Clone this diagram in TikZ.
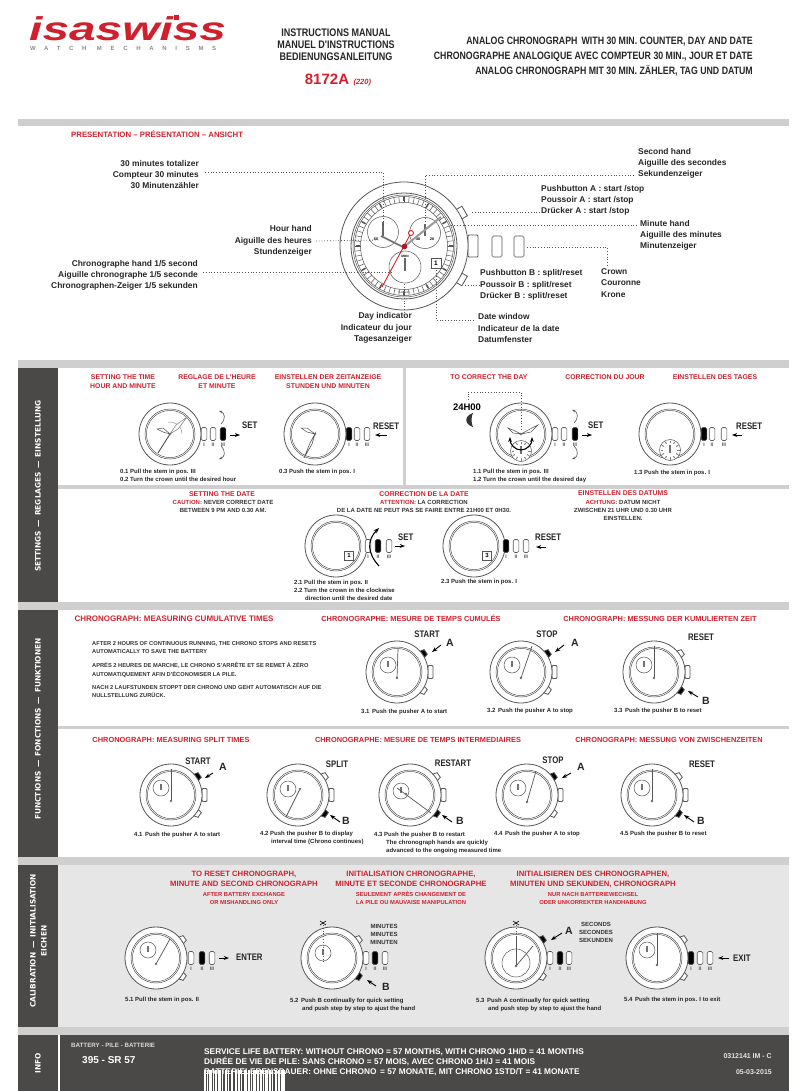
\documentclass[tikz,border=0pt]{standalone}
\usepackage{fontspec}
\setmainfont{Liberation Sans}
\newfontfamily\narrowfont[FakeStretch=0.82]{Liberation Sans}
\newfontfamily\logofont[FakeStretch=1.45]{Liberation Sans}
\newfontfamily\tagfont[LetterSpace=145]{Liberation Sans}
\newfontfamily\wideface{DejaVu Sans}
\usetikzlibrary{arrows.meta, positioning, calc}

\definecolor{isared}{HTML}{D0202E}
\definecolor{slab}{HTML}{4A4947}
\definecolor{barg}{HTML}{CFCFCF}
\definecolor{calg}{HTML}{E6E6E6}
\definecolor{steel}{HTML}{555555}

% case of a small watch
\newcommand{\dial}[2]{
    \draw[case, fill=white] (#1,#2) circle[radius=31];
    \draw[case, line width=0.5pt] (#1,#2) circle[radius=25];
    \draw[case, line width=0.5pt] (#1,#2) circle[radius=23.6];
}
% one pusher, given the angle and the fill
\newcommand{\pusher}[4]{
    \draw[case, fill=#4, shift={(#1,#2)}, rotate=#3] (30.5,-4) -- (35,-2.8) -- (35,2.8) -- (30.5,4) -- cycle;
}
% pushers and crown on the right of a small watch
\newcommand{\pushers}[4]{
    \pusher{#1}{#2}{35}{#3}
    \draw[case, fill=white, rounded corners=1pt, shift={(#1,#2)}] (31,-6.5) rectangle (36,6.5);
    \pusher{#1}{#2}{-35}{#4}
}
% three stem positions with their marks
\newcommand{\stems}[7]{
    \foreach \sx/\sc/\st in {#2/#5/I, #3/#6/II, #4/#7/III} {
        \draw[stem, fill=\sc] (\sx-2.8,#1-6.5) rectangle (\sx+2.8,#1+6.5);
        \node (pos\st) [posmark] at (\sx,#1+10.5) {\st};
    }
}
% small counter with its hand
\newcommand{\counter}[3]{
    \draw[case, line width=0.5pt, fill=white] (#1,#2) circle[radius=#3];
    \draw[case, draw=black!55, line width=1.2pt] (#1,#2+#3*0.3) -- (#1,#2-#3*0.5);
}
% ticks inside a day counter
\newcommand{\dayticks}[2]{
    \foreach \a in {0,30,...,330} {
        \draw[case, line width=0.9pt, draw=black!50, shift={(#1,#2)}, rotate=\a] (7,0) -- (9.5,0);
    }
}
\newcommand{\pivot}[2]{\draw[case, fill=white, line width=0.5pt] (#1,#2) circle[radius=1.1];}

\begin{document}
\begin{tikzpicture}[
        x=1pt, y=-1pt,
        case/.style={draw=steel, line width=0.8pt},
        stem/.style={draw=steel, line width=0.6pt, rounded corners=1.5pt},
        chand/.style={draw=steel, line width=0.7pt},
        leader/.style={draw=steel, line width=0.8pt, dotted},
        arrow/.style={-{Stealth[scale=0.75]}, draw=black, line width=0.9pt},
        rotarrow/.style={-{Stealth[scale=0.6]}, draw=steel, line width=0.6pt},
        posmark/.style={inner sep=0pt, font=\bfseries\fontsize{5}{6}\selectfont, text=steel},
        dialmark/.style={inner sep=0pt, font=\bfseries\fontsize{3.8}{4}\selectfont, text=black},
        partlabel/.style={inner sep=0pt, font=\bfseries\fontsize{8.4}{11.3}\selectfont, text=black!85},
        title/.style={inner sep=0pt, align=center, font=\narrowfont\bfseries\fontsize{11}{12.2}\selectfont, text=black!85},
        subtitle/.style={inner sep=0pt, align=right, anchor=east, font=\narrowfont\bfseries\fontsize{10.7}{15}\selectfont, text=black!85},
        head/.style={inner sep=0pt, align=center, font=\bfseries\fontsize{6.9}{9}\selectfont, text=isared},
        chronohead/.style={inner sep=0pt, align=center, font=\bfseries\fontsize{7.4}{9}\selectfont, text=isared},
        calhead/.style={inner sep=0pt, align=center, font=\bfseries\fontsize{7.7}{10}\selectfont, text=isared},
        calnote/.style={inner sep=0pt, align=center, font=\bfseries\fontsize{5.8}{8}\selectfont, text=isared},
        note/.style={inner sep=0pt, align=center, font=\bfseries\fontsize{6}{8}\selectfont, text=black!80},
        capt/.style={inner sep=0pt, align=left, anchor=west, font=\bfseries\fontsize{6}{8}\selectfont, text=black!85},
        action/.style={inner sep=0pt, font=\narrowfont\bfseries\fontsize{9.5}{10}\selectfont, text=black!85},
        letter/.style={inner sep=0pt, font=\bfseries\fontsize{10.5}{12}\selectfont, text=black!85},
        side/.style={inner sep=0pt, rotate=90, align=center, text=white, font=\wideface\bfseries\fontsize{7.4}{11}\selectfont},
        infotext/.style={inner sep=0pt, anchor=west, text=white, font=\bfseries}
    ]
    \useasboundingbox (0,0) rectangle (808,1091);

    % bands and panels
    \fill[barg] (18,119) rectangle (789,126);
    \fill[barg] (18,360) rectangle (789,368);
    \fill[barg] (18,602) rectangle (789,610);
    \fill[barg] (18,857) rectangle (789,865);
    \fill[barg] (18,1027) rectangle (789,1035);
    \fill[calg] (58,865) rectangle (789,1027);
    \fill[slab] (18,368) rectangle (58,602);
    \fill[slab] (18,610) rectangle (58,857);
    \fill[slab] (18,865) rectangle (58,1027);
    \fill[slab] (18,1035) rectangle (58,1091);
    \fill[slab] (60,1035) rectangle (789,1091);
    \fill[barg] (58,485) rectangle (789,488.5);
    \fill[barg] (403,368) rectangle (405.5,485);
    \fill[barg] (58,726) rectangle (789,729);

    \node (settingsside) [side] at (38,486) {SETTINGS \,—\, REGLAGES \,—\, EINSTELLUNG};
    \node (functionsside) [side] at (38,729) {FUNCTIONS \,—\, FONCTIONS \,—\, FUNKTIONEN};
    \node (calibside) [side] at (38.5,941) {CALIBRATION \,—\, INITIALISATION\\EICHEN};
    \node (infoside) [side] at (38,1063) {INFO};

    % header
    \node (logo) [inner sep=0pt, anchor=base west, text=isared, font=\logofont\bfseries\itshape\fontsize{33}{33}\selectfont] at (29,40.5) {isaswiss};
    \fill[isared] (174,15) rectangle (179,20);
    \node (logotag) [inner sep=0pt, anchor=west, text=black!45, font=\tagfont\bfseries\fontsize{6}{6}\selectfont] at (30,48) {WATCH MECHANISMS};
    \node (manual) [title] at (336,45) {INSTRUCTIONS MANUAL\\MANUEL D'INSTRUCTIONS\\BEDIENUNGSANLEITUNG};
    \node (model) [inner sep=0pt, text=isared, font=\bfseries\fontsize{15}{16}\selectfont] at (327,79) {8172A};
    \node (modelsub) [inner sep=0pt, right=4pt of model.base east, anchor=base west, text=isared, font=\bfseries\itshape\fontsize{7.5}{8}\selectfont] {(220)};
    \node (product) [subtitle] at (753,57) {ANALOG CHRONOGRAPH\, WITH 30 MIN. COUNTER, DAY AND DATE\\CHRONOGRAPHE ANALOGIQUE AVEC COMPTEUR 30 MIN., JOUR ET DATE\\ANALOG CHRONOGRAPH MIT 30 MIN. ZÄHLER, TAG UND DATUM};

    % presentation
    \node (prestitle) [inner sep=0pt, anchor=west, text=isared, font=\bfseries\fontsize{7.8}{9}\selectfont] at (71,134.5) {PRESENTATION – PRÉSENTATION – ANSICHT};

    \draw[case, shift={(404,246)}, rotate=30, fill=white] (63,-5.5) rectangle (70,5.5);
    \draw[case, shift={(404,246)}, rotate=-30, fill=white] (63,-5.5) rectangle (70,5.5);
    \draw[case, fill=white, rounded corners=1pt] (465,239) rectangle (470,253);
    \draw[case, fill=white, rounded corners=1pt] (468,235) rectangle (478,257);
    \draw[case, fill=white] (404,246) circle[radius=64];
    \draw[case] (404,246) circle[radius=53];
    \draw[case, line width=0.5pt] (404,246) circle[radius=51];
    \draw[case, line width=0.5pt] (404,246) circle[radius=49.5];
    \draw[case, line width=0.5pt] (404,246) circle[radius=43.5];
    \foreach \a in {0,6,...,354} {
        \draw[case, line width=0.5pt, shift={(404,246)}, rotate=\a] (43.5,0) -- (49.5,0);
    }
    \foreach \a in {0,30,...,330} {
        \draw[case, line width=1.5pt, shift={(404,246)}, rotate=\a] (44.5,0) -- (48.5,0);
    }
    \draw[case, line width=0.5pt, fill=white] (383,232) circle[radius=15.5];
    \draw[case, line width=0.5pt, fill=white] (425,233) circle[radius=15.5];
    \draw[case, line width=0.5pt, fill=white] (405,267) circle[radius=16];
    \draw[case, line width=1.6pt, draw=black!60] (383,236) -- (383,222);
    \draw[case, line width=1.6pt, draw=black!60] (405,271) -- (405,258);
    \draw[case, line width=1.4pt, draw=black!60] (425,236) -- (425,224);
    \node (subsixty) [dialmark] at (376,239) {60};
    \node (subforty) [dialmark] at (418,239) {40};
    \node (subthirty) [dialmark] at (432,239) {20};
    \node (subday) [dialmark, font=\bfseries\fontsize{3.2}{4}\selectfont] at (405,256) {MON};
    \draw[case, line width=1pt, fill=white] (431,258) rectangle (441,268);
    \node (datenum) [inner sep=0pt, font=\bfseries\fontsize{6.5}{7}\selectfont] at (436,263) {1};
    \draw[case, line width=2pt, draw=black!40] (403,247) -- (381,236);
    \draw[case, line width=2pt, draw=black!40] (405,246) -- (441,217);
    \draw[case, line width=0.5pt] (403,247) -- (381,236);
    \draw[isared, line width=0.9pt] (382,287) -- (411,233);
    \draw[isared, line width=0.9pt, fill=white] (411,233) circle[radius=2.5];
    \fill[isared!80!black] (404.5,246.5) circle[radius=2.8];
    \node (watchmark) [inner sep=0pt, text=black!60, font=\bfseries\fontsize{2.5}{3}\selectfont] at (404,293) {ISASWISS};

    \node (totalizer) [partlabel, align=right, anchor=east] at (199,174.5) {30 minutes totalizer\\Compteur 30 minutes\\30 Minutenzähler};
    \node (secondlbl) [partlabel, align=left, anchor=west] at (638,163.5) {Second hand\\Aiguille des secondes\\Sekundenzeiger};
    \node (pusherA) [partlabel, align=left, anchor=west] at (541,200.5) {Pushbutton A : start /stop\\Poussoir A : start /stop\\Drücker A : start /stop};
    \node (minutelbl) [partlabel, align=left, anchor=west] at (640,235.5) {Minute hand\\Aiguille des minutes\\Minutenzeiger};
    \node (hourlbl) [partlabel, align=right, anchor=east] at (312,241) {Hour hand\\Aiguille des heures\\Stundenzeiger};
    \node (chronolbl) [partlabel, align=right, anchor=east] at (198,275.5) {Chronographe hand 1/5 second\\Aiguille chronographe 1/5 seconde\\Chronographen-Zeiger 1/5 sekunden};
    \node (crownlbl) [partlabel, align=left, anchor=west] at (601,283) {Crown\\Couronne\\Krone};
    \node (pusherB) [partlabel, align=left, anchor=west] at (480,285) {Pushbutton B : split/reset\\Poussoir B : split/reset\\Drücker B : split/reset};
    \node (daylbl) [partlabel, align=right, anchor=east] at (412,328) {Day indicator\\Indicateur du jour\\Tagesanzeiger};
    \node (datelbl) [partlabel, align=left, anchor=west] at (478,328) {Date window\\Indicateur de la date\\Datumfenster};

    % crown stem positions of the large watch
    \draw[stem, fill=white] (492,236) rectangle (502,257);
    \draw[stem, fill=white] (514,236) rectangle (524,257);

    \coordinate (totalend) at (383,225);
    \coordinate (secondend) at (425,222);
    \coordinate (minuteend) at (450,225);
    \coordinate (hourend) at (380,240);
    \coordinate (chronoend) at (393,272);
    \coordinate (dayend) at (404,284);
    \coordinate (dateend) at (436,270);
    \coordinate (crowndrop) at (607,266);
    \draw[leader] (205,172) -| (totalend);
    \draw[leader] (634,175) -| (secondend);
    \draw[leader] (472,212) -- (pusherA.west |- 0,212);
    \draw[leader] (637,225) -- (minuteend);
    \draw[leader] (hourlbl.east) ++(4,0) -- (hourend);
    \draw[leader] (203,272) -- (chronoend);
    \draw[leader] (465,285) -- (pusherB.west);
    \draw[leader] (daylbl.north -| dayend) -- (dayend);
    \draw[leader] (474,320) -| (dateend);
    \draw[leader] (527,247) -| (crowndrop);

    % settings: time
    \node (time1) [head] at (123,381.5) {SETTING THE TIME\\HOUR AND MINUTE};
    \node (time2) [head] at (217,381.5) {REGLAGE DE L'HEURE\\ET MINUTE};
    \node (time3) [head] at (328,381.5) {EINSTELLEN DER ZEITANZEIGE\\STUNDEN UND MINUTEN};

    \dial{170}{434}
    \draw[chand, draw=black!50, line width=0.4pt] (182,434) arc (0:-100:12);
    \draw[chand, draw=black!45, line width=0.6pt, fill=white] (170,434) -- (176,425) -- (187,417) -- (178,429) -- cycle;
    \draw[chand, line width=0.5pt, fill=white] (170,434) -- (163,428) -- (157,429) -- (163,432) -- cycle;
    \draw[chand, line width=0.9pt, draw=black!70] (170,434) -- (158,453);
    \pivot{170}{434}
    \stems{434}{204}{213}{223}{white}{white}{black}
    \draw[arrow] (230,435) -- (240,435);
    \node (set01) [action, anchor=west] at (242,425.5) {SET};
    \draw[rotarrow] (221,424) .. controls (226,419) and (225,413) .. (219,411);
    \draw[rotarrow] (221,446) .. controls (226,451) and (225,457) .. (219,459);
    \node (cap01) [capt] at (120,475) {0.1 Pull the stem in pos. III\\0.2 Turn the crown until the desired hour};

    \dial{315}{434}
    \draw[chand, line width=0.5pt, fill=white] (315,434) -- (307,428) -- (301,428) -- (307,432) -- cycle;
    \draw[chand, line width=0.6pt, fill=white] (315,434) -- (312,444) -- (304,458) -- (310,443) -- cycle;
    \pivot{315}{434}
    \stems{434}{349}{357}{367}{black}{white}{white}
    \draw[arrow] (387,435) -- (375,435);
    \node (reset03) [action, anchor=west] at (373,426) {RESET};
    \node (cap03) [capt] at (279,472) {0.3 Push the stem in pos. I};

    % settings: day
    \node (day1) [head] at (489,377) {TO CORRECT THE DAY};
    \node (day2) [head] at (605,377) {CORRECTION DU JOUR};
    \node (day3) [head] at (715,377) {EINSTELLEN DES TAGES};
    \node (dayclock) [inner sep=0pt, font=\bfseries\fontsize{9.5}{10}\selectfont] at (467,407) {24H00};
    \fill[black!80] (473,413) .. controls (464,416) and (464,424) .. (473,427) .. controls (471,423) and (471,417) .. (473,413) -- cycle;
    \dial{521}{434}
    \draw[leader, line width=0.6pt] (468,400) |- (521,392) -- (521,430);
    \draw[chand, line width=0.5pt, fill=white] (521,434) -- (513,430) -- (508,428) -- (513,433) -- cycle;
    \draw[chand, line width=0.5pt, fill=white] (521,434) -- (532,428) -- (538,425) -- (531,432) -- cycle;
    \counter{521}{451}{10.5}
    \dayticks{521}{451}
    \pivot{521}{434}
    \draw[{Stealth[scale=0.6]}-{Stealth[scale=0.6]}, line width=1.1pt] (510,437) arc (180:360:11 and -13);
    \stems{434}{555}{564}{575}{white}{white}{black}
    \draw[arrow] (582,435) -- (592,435);
    \node (set11) [action, anchor=west] at (588,425) {SET};
    \draw[rotarrow] (574,423) .. controls (579,418) and (578,412) .. (572,410);
    \draw[rotarrow] (574,446) .. controls (579,451) and (578,457) .. (572,459);
    \node (cap11) [capt] at (473,475.5) {1.1 Pull the stem in pos. III\\1.2 Turn the crown until the desired day};

    \dial{670}{434}
    \counter{670}{450}{10.5}
    \dayticks{670}{450}
    \stems{434}{704}{712}{724}{black}{white}{white}
    \draw[arrow] (742,435) -- (732,435);
    \node (reset13) [action, anchor=west] at (736,426) {RESET};
    \node (cap13) [capt] at (634,472.5) {1.3 Push the stem in pos. I};

    % settings: date
    \node (date1) [head] at (222,494) {SETTING THE DATE};
    \node (date1n) [note] at (223,506) {\textcolor{isared}{CAUTION:} NEVER CORRECT DATE\\BETWEEN 9 PM AND 0.30 AM.};
    \node (date2) [head] at (424,494) {CORRECTION DE LA DATE};
    \node (date2n) [note] at (424,506) {\textcolor{isared}{ATTENTION:} LA CORRECTION\\DE LA DATE NE PEUT PAS SE FAIRE ENTRE 21H00 ET 0H30.};
    \node (date3) [head] at (623,493) {EINSTELLEN DES DATUMS};
    \node (date3n) [note] at (623,510) {\textcolor{isared}{ACHTUNG:} DATUM NICHT\\ZWISCHEN 21 UHR UND 0.30 UHR\\EINSTELLEN.};

    \dial{336}{546}
    \draw[case, line width=0.6pt, fill=white] (344.5,551) rectangle (353.5,560);
    \node (date21) [inner sep=0pt, font=\bfseries\fontsize{6}{7}\selectfont] at (349,555.5) {1};
    \stems{546}{368}{378}{389}{white}{black}{white}
    \draw[{Stealth[scale=0.7]}-, line width=1.1pt] (379,528) .. controls (367,540) and (367,553) .. (379,566);
    \draw[arrow] (395,546) -- (405,546);
    \node (set21) [action, anchor=west] at (398,537) {SET};
    \node (cap21) [capt] at (294,590) {2.1 Pull the stem in pos. II\\2.2 Turn the crown in the clockwise\\\hspace*{11pt}direction until the desired date};

    \dial{474}{546}
    \draw[case, line width=0.6pt, fill=white] (482.5,551) rectangle (491.5,560);
    \node (date23) [inner sep=0pt, font=\bfseries\fontsize{6}{7}\selectfont] at (487,555.5) {3};
    \stems{546}{506}{516}{526}{black}{white}{white}
    \draw[arrow] (546,547) -- (536,547);
    \node (reset23) [action, anchor=west] at (535,537) {RESET};
    \node (cap23) [capt] at (441,582) {2.3 Push the stem in pos. I};

    % functions: cumulative
    \node (cum1) [chronohead, font=\bfseries\fontsize{8}{9}\selectfont] at (174,618.5) {CHRONOGRAPH: MEASURING CUMULATIVE TIMES};
    \node (cum2) [chronohead] at (411,618.5) {CHRONOGRAPHE: MESURE DE TEMPS CUMULÉS};
    \node (cum3) [chronohead] at (660,619) {CHRONOGRAPH: MESSUNG DER KUMULIERTEN ZEIT};
    \node (autostop) [note, align=left, anchor=north west, font=\bfseries\fontsize{5.7}{8.3}\selectfont] at (92,641.5) {AFTER 2 HOURS OF CONTINUOUS RUNNING, THE CHRONO STOPS AND RESETS\\AUTOMATICALLY TO SAVE THE BATTERY\\[5.5pt]APRÈS 2 HEURES DE MARCHE, LE CHRONO S'ARRÊTE ET SE REMET À ZÉRO\\AUTOMATIQUEMENT AFIN D'ÉCONOMISER LA PILE.\\[5pt]NACH 2 LAUFSTUNDEN STOPPT DER CHRONO UND GEHT AUTOMATISCH AUF DIE\\NULLSTELLUNG ZURÜCK.};

    \pushers{397}{672}{black}{white}
    \dial{397}{672}
    \counter{388}{665}{8}
    \draw[chand] (397,678) -- (398,649);
    \pivot{397}{678}
    \node (start31) [action] at (427,634) {START};
    \node (a31) [letter] at (450,643) {A};
    \draw[arrow] (441,645) -- (432,652);
    \node (cap31) [capt] at (361,712) {3.1\, Push the pusher A to start};

    \pushers{521}{672}{black}{white}
    \dial{521}{672}
    \counter{512}{665}{8}
    \draw[chand] (521,678) -- (532,646);
    \pivot{521}{678}
    \node (stop32) [action] at (547,634) {STOP};
    \node (a32) [letter] at (575,643) {A};
    \draw[arrow] (564,645) -- (555,652);
    \node (cap32) [capt] at (487,711) {3.2\, Push the pusher A to stop};

    \pushers{654}{672}{white}{black}
    \dial{654}{672}
    \counter{644}{665}{8}
    \draw[chand] (654,678) -- (654,646);
    \pivot{654}{678}
    \node (reset33) [action] at (701,637) {RESET};
    \node (b33) [letter] at (706,701) {B};
    \draw[arrow] (698,697) -- (688,691);
    \node (cap33) [capt] at (614,711) {3.3\, Push the pusher B to reset};

    % functions: split
    \node (split1) [chronohead] at (171,739.5) {CHRONOGRAPH: MEASURING SPLIT TIMES};
    \node (split2) [chronohead] at (418,739.5) {CHRONOGRAPHE: MESURE DE TEMPS INTERMEDIAIRES};
    \node (split3) [chronohead] at (669,739.5) {CHRONOGRAPH: MESSUNG VON ZWISCHENZEITEN};

    \pushers{171}{795}{black}{white}
    \dial{171}{795}
    \counter{161}{788}{8}
    \draw[chand] (171,801) -- (171,769);
    \pivot{171}{801}
    \node (start41) [action] at (198,761) {START};
    \node (a41) [letter] at (223,767) {A};
    \draw[arrow] (213,773) -- (205,778);
    \node (cap41) [capt] at (134,835) {4.1\, Push the pusher A to start};

    \pushers{298}{795}{white}{black}
    \dial{298}{795}
    \counter{288}{789}{8}
    \draw[chand] (300,789) -- (286,817);
    \pivot{300}{789}
    \node (split42) [action] at (337,764) {SPLIT};
    \node (b42) [letter] at (346,821) {B};
    \draw[arrow] (340,822) -- (330,815);
    \node (cap42) [capt] at (260,838) {4.2 Push the pusher B to display\\\hspace*{11pt}interval time (Chrono continues)};

    \pushers{410}{795}{white}{black}
    \dial{410}{795}
    \counter{401}{791}{8}
    \draw[chand] (397,788) -- (431,813);
    \pivot{406}{794}
    \node (restart43) [action] at (453,763) {RESTART};
    \node (b43) [letter] at (460,821) {B};
    \draw[arrow] (452,822) -- (442,815);
    \node (cap43) [capt] at (374,843) {4.3 Push the pusher B to restart\\\hspace*{12pt}The chronograph hands are quickly\\\hspace*{12pt}advanced to the ongoing measured time};

    \pushers{527}{795}{black}{white}
    \dial{527}{795}
    \counter{518}{788}{8}
    \draw[chand] (527,802) -- (536,771);
    \pivot{527}{802}
    \node (stop44) [action] at (553,760) {STOP};
    \node (a44) [letter] at (581,767) {A};
    \draw[arrow] (571,773) -- (562,778);
    \node (cap44) [capt] at (494,834) {4.4\, Push the pusher A to stop};

    \pushers{652}{795}{white}{black}
    \dial{652}{795}
    \counter{642}{788}{8}
    \draw[chand] (652,801) -- (652,769);
    \pivot{652}{801}
    \node (reset45) [action] at (702,764) {RESET};
    \node (b45) [letter] at (701,821) {B};
    \draw[arrow] (694,822) -- (684,815);
    \node (cap45) [capt] at (620,834) {4.5 Push the pusher B to reset};

    % calibration
    \node (cal1) [calhead] at (244,879) {TO RESET CHRONOGRAPH,\\MINUTE AND SECOND CHRONOGRAPH};
    \node (cal1n) [calnote] at (244,898) {AFTER BATTERY EXCHANGE\\OR MISHANDLING ONLY};
    \node (cal2) [calhead] at (411,879) {INITIALISATION CHRONOGRAPHE,\\MINUTE ET SECONDE CHRONOGRAPHE};
    \node (cal2n) [calnote] at (411,898) {SEULEMENT APRÈS CHANGEMENT DE\\LA PILE OU MAUVAISE MANIPULATION};
    \node (cal3) [calhead] at (593,879) {INITIALISIEREN DES CHRONOGRAPHEN,\\MINUTEN UND SEKUNDEN, CHRONOGRAPH};
    \node (cal3n) [calnote] at (593,898) {NUR NACH BATTERIEWECHSEL\\ODER UNKORREKTER HANDHABUNG};

    \pusher{156}{958}{35}{white}
    \pusher{156}{958}{-35}{white}
    \dial{156}{958}
    \counter{148}{950}{8}
    \draw[chand] (156,964) -- (170,939);
    \pivot{156}{964}
    \stems{958}{191}{202}{212}{white}{black}{white}
    \draw[arrow] (219,958) -- (229,958);
    \node (enter51) [action, anchor=west] at (236,957) {ENTER};
    \node (cap51) [capt] at (125,1000) {5.1 Pull the stem in pos. II};

    \pusher{332}{958}{35}{white}
    \pusher{332}{958}{-35}{black}
    \dial{332}{958}
    \counter{323}{953}{8}
    \draw[leader, line width=0.6pt] (323,925) -- (323,962);
    \draw[line width=0.6pt] (320,921) -- (326,925) (326,921) -- (320,925);
    \stems{958}{366}{375}{385}{white}{black}{white}
    \node (minutes52) [note] at (384,934) {MINUTES\\MINUTES\\MINUTEN};
    \node (b52) [letter] at (386,987) {B};
    \draw[arrow] (376,986) -- (367,980);
    \node (cap52) [capt] at (290,1005) {5.2\, Push B continually for quick setting\\\hspace*{12pt}and push step by step to ajust the hand};

    \pusher{516}{958}{35}{black}
    \pusher{516}{958}{-35}{white}
    \dial{516}{958}
    \draw[case, line width=0.5pt] (516,963) circle[radius=14];
    \draw[leader, line width=0.6pt] (516,925) -- (516,964);
    \draw[chand] (516,966) -- (516,936);
    \draw[chand] (516,966) -- (533,946);
    \pivot{516}{966}
    \draw[line width=0.6pt] (513,921) -- (519,925) (519,921) -- (513,925);
    \stems{958}{550}{560}{569}{white}{black}{white}
    \node (seconds53) [note] at (596,932.5) {SECONDS\\SECONDES\\SEKUNDEN};
    \node (a53) [letter] at (569,931) {A};
    \draw[arrow] (562,933) -- (551,940);
    \node (cap53) [capt] at (476,1005) {5.3\, Push A continually for quick setting\\\hspace*{12pt}and push step by step to ajust the hand};

    \pusher{657}{958}{35}{white}
    \pusher{657}{958}{-35}{white}
    \dial{657}{958}
    \counter{647}{950}{8}
    \draw[chand] (657,965) -- (657,933);
    \pivot{657}{965}
    \stems{958}{691}{700}{710}{black}{white}{white}
    \draw[arrow] (729,958) -- (718,958);
    \node (exit54) [action, anchor=west] at (733,958) {EXIT};
    \node (cap54) [capt] at (624,1000) {5.4\, Push the stem in pos. I to exit};

    % info
    \node (batlbl) [infotext, text=black!15, font=\bfseries\fontsize{6.2}{7}\selectfont] at (71,1045.5) {BATTERY - PILE - BATTERIE};
    \node (battype) [infotext, font=\bfseries\fontsize{10}{11}\selectfont] at (82,1060) {395 - SR 57};
    \node (life) [infotext, align=left, font=\bfseries\fontsize{8.3}{10.3}\selectfont] at (204,1062) {SERVICE LIFE BATTERY: WITHOUT CHRONO = 57 MONTHS, WITH CHRONO 1H/D = 41 MONTHS\\DURÉE DE VIE DE PILE: SANS CHRONO = 57 MOIS, AVEC CHRONO 1H/J = 41 MOIS\\BATTERIELEBENSDAUER: OHNE CHRONO\, = 57 MONATE, MIT CHRONO 1STD/T = 41 MONATE};
    \foreach \bx/\bw in {204/2,207/1,209/2.5,213/1,215/1.5,218/2.5,222/1,224.5/2,228/1,230.5/2.5,235/1.5,238/2,241/1,244/2.5,248/1.5,251/1,253/2.5,257/1.5,260/2,263/1,265/2.5,269/1.5,272/1,274.5/2.5,278/1.5,280.5/2,283/1.5} {
        \fill[white] (\bx,1070) rectangle (\bx+\bw,1091);
    }
    \node (docref) [inner sep=0pt, anchor=east, text=black!10, font=\bfseries\fontsize{7}{8}\selectfont] at (772,1056) {0312141 IM - C};
    \node (docdate) [inner sep=0pt, anchor=east, text=black!10, font=\bfseries\fontsize{7}{8}\selectfont] at (772,1072) {05-03-2015};
\end{tikzpicture}
\end{document}
